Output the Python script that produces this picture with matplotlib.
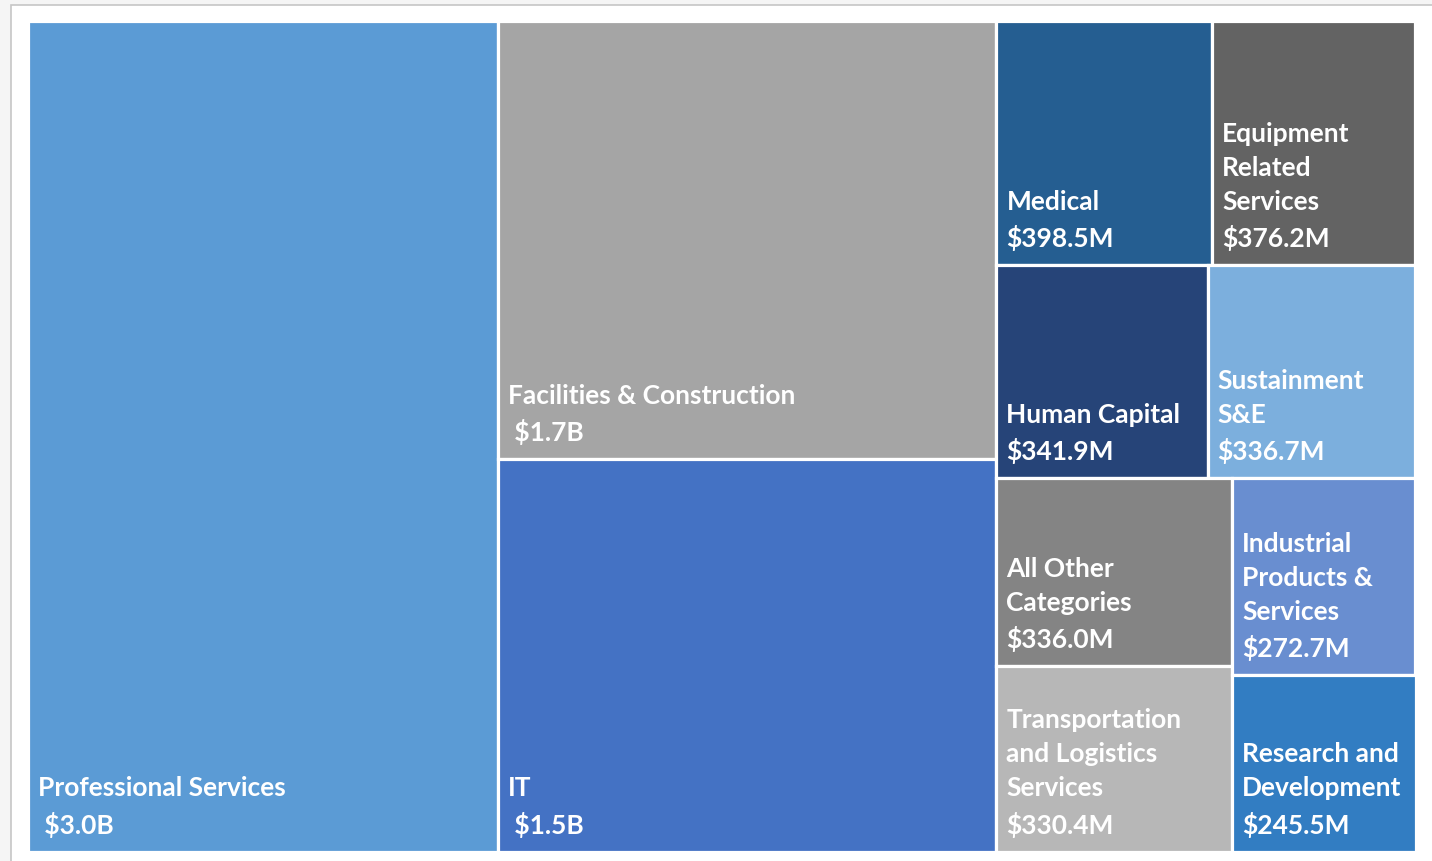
import matplotlib
matplotlib.use("Agg")
import matplotlib.pyplot as plt
from matplotlib.patches import Rectangle

# ---- data ----
labels = [
    "Professional Services",
    "Facilities & Construction",
    "IT",
    "Medical",
    "Equipment\nRelated\nServices",
    "Human Capital",
    "Sustainment\nS&E",
    "All Other\nCategories",
    "Transportation\nand Logistics\nServices",
    "Industrial\nProducts &\nServices",
    "Research and\nDevelopment",
]
# millions of USD (large ones estimated from tile areas; shown rounded as $x.xB)
values_musd = [2960.0, 1655.0, 1480.0, 398.5, 376.2, 341.9, 336.7, 336.0, 330.4, 272.7, 245.5]
colors = ["#5B9BD5", "#A5A5A5", "#4472C4", "#255E91", "#636363", "#264478",
          "#7CAFDD", "#848484", "#B7B7B7", "#698ED0", "#327DC2"]


def fmt(v):
    if v >= 1000:
        return f" ${v/1000:.1f}B"
    return f"${v:.1f}M"


def worst(row, side):
    s = sum(row)
    return max(max(side * side * r / (s * s), (s * s) / (side * side * r)) for r in row)


def squarify(sizes, x, y, w, h):
    total = sum(sizes)
    items = [s * w * h / total for s in sizes]
    rects = []
    while items:
        side = h if w >= h else w
        row = [items[0]]
        i = 1
        while i < len(items) and worst(row + [items[i]], side) <= worst(row, side):
            row.append(items[i])
            i += 1
        s = sum(row)
        if w >= h:
            cw = s / h
            yy = y
            for a in row:
                rh = a / cw
                rects.append((x, yy, cw, rh))
                yy += rh
            x += cw
            w -= cw
        else:
            rh = s / w
            xx = x
            for a in row:
                rw = a / rh
                rects.append((xx, y, rw, rh))
                xx += rw
            y += rh
            h -= rh
        items = items[i:]
    return rects


W_PX, H_PX = 1432, 861
fig = plt.figure(figsize=(W_PX / 100, H_PX / 100), dpi=100)
fig.patch.set_facecolor("#F5F5F5")
frame = Rectangle((11 / W_PX, -0.05), 1.2, 1 - 4.5 / H_PX + 0.05,
                  transform=fig.transFigure, facecolor="white",
                  edgecolor="#C6C6C6", linewidth=1.2, zorder=-10)
fig.add_artist(frame)

ax_l, ax_r, ax_t, ax_b = 28.0, 1415.5, 20.5, 851.5
ax = fig.add_axes([ax_l / W_PX, 1 - ax_b / H_PX, (ax_r - ax_l) / W_PX, (ax_b - ax_t) / H_PX])
ax.set_zorder(5)
AW, AH = ax_r - ax_l, ax_b - ax_t
ax.set_xlim(0, AW)
ax.set_ylim(AH, 0)
ax.axis("off")

rects = squarify(values_musd, 0, 0, AW, AH)
for (x, y, w, h), lab, v, c in zip(rects, labels, values_musd, colors):
    ax.add_patch(Rectangle((x, y), w, h, facecolor=c, edgecolor="white", linewidth=2.3))
    ax.annotate(lab + "\n" + fmt(v), xy=(x, y + h), xytext=(10, 14),
                textcoords="offset pixels", ha="left", va="bottom",
                color="white", fontsize=19, fontweight="bold", family="Lato",
                linespacing=1.5)

fig.savefig("out.png", dpi=100, facecolor=fig.get_facecolor())
